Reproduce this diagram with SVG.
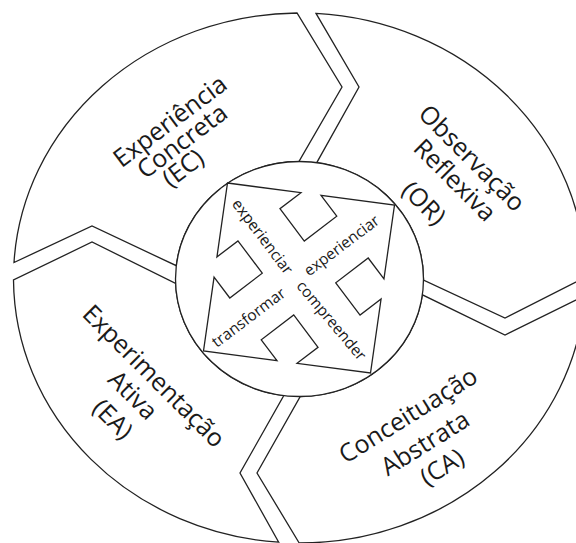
<svg xmlns="http://www.w3.org/2000/svg" width="576" height="543" viewBox="0 0 576 543">
<style>
.seg{fill:#fff;stroke:#222;stroke-width:1.3;stroke-linejoin:miter}
.lbl{font-family:"Open Sans","Noto Sans",sans-serif;font-size:25px;fill:#1a1a1a;text-anchor:middle}
.in{font-family:"Open Sans","Noto Sans",sans-serif;font-size:15.5px;fill:#1a1a1a;text-anchor:middle}
</style>
<rect width="576" height="543" fill="#fff"/>
<g id="EC">
<path class="seg" d="M14,262.5 A286 265 0 0 1 297,13 L342,87 L298.9,161.5 A124 117.5 0 0 0 176.3,265.7 L92,226 Z"/>
<text class="lbl" transform="translate(170,121) rotate(-37)" dy="0.35em">Experiência</text>
<text class="lbl" transform="translate(182,141) rotate(-37)" dy="0.35em">Concreta</text>
<text class="lbl" transform="translate(183,168) rotate(-37)" dy="0.35em">(EC)</text>
</g>
<g id="OR">
<path class="seg" d="M316,13.4 A286 265 0 0 1 585.5,277.3 L505,318 L423.5,280.2 A124 117.5 0 0 0 316.8,162.6 L359,87 Z"/>
<text class="lbl" transform="translate(472,158) rotate(45)" dy="0.35em">Observação</text>
<text class="lbl" transform="translate(455,180) rotate(45)" dy="0.35em">Reflexiva</text>
<text class="lbl" transform="translate(424,203) rotate(45)" dy="0.35em">(OR)</text>
</g>
<g id="CA">
<path class="seg" d="M584.9,295.6 A286 265 0 0 1 299.2,543 L257,473 L300.3,396.5 A124 117.5 0 0 0 422.4,294.8 L505,335 Z"/>
<text class="lbl" transform="translate(408,415) rotate(-32)" dy="0.35em">Conceituação</text>
<text class="lbl" transform="translate(425,443) rotate(-32)" dy="0.35em">Abstrata</text>
<text class="lbl" transform="translate(442,467) rotate(-32)" dy="0.35em">(CA)</text>
</g>
<g id="EA">
<path class="seg" d="M278.7,542.2 A286 265 0 0 1 13.5,280 L92,242 L175.6,283.3 A124 117.5 0 0 0 283.8,395.6 L240,473 Z"/>
<text class="lbl" transform="translate(154,376) rotate(45)" dy="0.35em">Experimentação</text>
<text class="lbl" transform="translate(133,395) rotate(45)" dy="0.35em">Ativa</text>
<text class="lbl" transform="translate(113,419) rotate(45)" dy="0.35em">(EA)</text>
</g>
<g id="center">
<ellipse cx="299.5" cy="279" rx="124" ry="117.5" fill="#fff" stroke="#222" stroke-width="1.3"/>
<path transform="matrix(0.835,0.11,-0.12,0.84,299,278)" vector-effect="non-scaling-stroke" fill="#fff" stroke="#222" stroke-width="1.3" d="M-100,-100 L-12,-100 L-34,-78 L0,-44 L34,-78 L12,-100 L100,-100 L100,-12 L78,-34 L44,0 L78,34 L100,12 L100,100 L12,100 L34,78 L0,44 L-34,78 L-12,100 L-100,100 L-100,12 L-78,34 L-44,0 L-78,-34 L-100,-12 Z"/>
<text class="in" transform="translate(262,237) rotate(53)" dy="0.3em">experienciar</text>
<text class="in" transform="translate(342,246) rotate(-37)" dy="0.3em">experienciar</text>
<text class="in" transform="translate(249,318) rotate(-37)" dy="0.3em">transformar</text>
<text class="in" transform="translate(331,321) rotate(50)" dy="0.3em">compreender</text>
</g>
</svg>
